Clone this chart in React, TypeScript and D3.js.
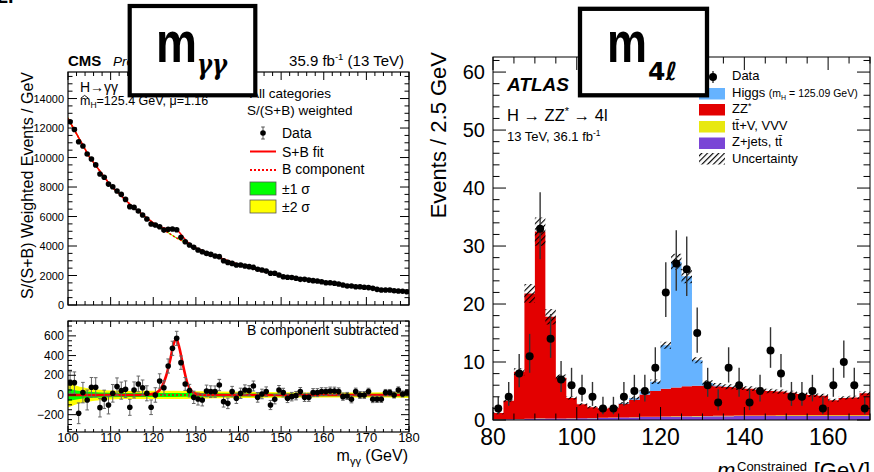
import React from "react";
import * as d3 from "d3";

const FONT = "'Liberation Sans', Arial, Helvetica, sans-serif";

// ---------------- CMS  H -> gamma gamma (1 GeV bins, 100-180 GeV) ----------------
const ggCentres = d3.range(100.5, 180, 1);
const ggWeighted = [
  12430, 11900, 11070, 10780, 10240, 9900, 9500, 8880, 8660, 8200,
  8020, 7730, 7500, 7160, 6670, 6620, 6370, 6100, 5830, 5490,
  5420, 5310, 5080, 5130, 5150, 5100, 4590, 4290, 4070, 3910,
  3730, 3610, 3500, 3430, 3320, 3280, 3000, 2890, 2820, 2710,
  2710, 2640, 2600, 2550, 2420, 2370, 2300, 2150, 2150, 2030,
  1920, 1880, 1860, 1810, 1740, 1740, 1690, 1650, 1630, 1580,
  1510, 1510, 1470, 1420, 1360, 1290, 1290, 1240, 1240, 1200,
  1180, 1130, 1060, 1020, 1020, 1020, 970, 950, 930, 900,
];
const ggResidual = [
  125, 125, -186, 24, -51, 78, 78, -129, -44, -102,
  17, 85, 44, 58, -125, 51, 112, 74, 17, -125,
  0, 142, 74, 294, 474, 575, 328, 112, 44, -24,
  -41, -51, 41, 34, 34, 101, -68, -85, 34, -34,
  17, 51, 44, 91, -24, 10, 34, -102, -44, 51,
  24, -34, -17, -7, 34, -24, -24, 24, 24, 34,
  34, 41, 41, 34, -17, -10, -44, 34, 0, 0,
  34, -44, -44, -44, 24, 24, 0, 51, 10, 24,
];
// background component of the fit
const ggBkgMass = [100, 105, 110, 115, 120, 125, 130, 135, 140, 145, 150, 155, 160, 165, 170, 175, 180];
const ggBkgValue = [12650, 10050, 8100, 6700, 5560, 4620, 3860, 3280, 2740, 2340, 1990, 1740, 1530, 1340, 1170, 1020, 900];
// signal component of the fit
const ggSigMass = [100, 118, 119, 120, 121, 122, 123, 124, 124.8, 125.4, 126, 127, 128, 129, 130, 131, 132, 180];
const ggSigValue = [0, 0, 4, 12, 30, 80, 190, 360, 520, 570, 500, 300, 120, 40, 12, 4, 0, 0];
// +-1 sigma and +-2 sigma bands on the background component
const ggBandMass = [100, 102, 105, 110, 115, 120, 125, 130, 140, 150, 160, 170, 180];
const ggBand1 = [62, 46, 32, 22, 20, 21, 21, 19, 16, 14, 13, 13, 15];
const ggBand2 = [128, 94, 66, 45, 40, 42, 42, 38, 32, 28, 26, 26, 30];

const ggTopTicks = [0, 2000, 4000, 6000, 8000, 10000, 12000, 14000];
const ggBotTicks = [-200, 0, 200, 400, 600];
const ggXTicks = [100, 110, 120, 130, 140, 150, 160, 170, 180];

// ---------------- ATLAS  H -> ZZ* -> 4l (2.5 GeV bins, 80-170 GeV) ----------------
const llEdges = d3.range(80, 170.001, 2.5);
const llZjets = [
  0.10, 0.12, 0.15, 0.20, 0.25, 0.25, 0.25, 0.28, 0.30, 0.32, 0.35, 0.38,
  0.42, 0.45, 0.50, 0.52, 0.55, 0.58, 0.60, 0.62, 0.64, 0.65, 0.66, 0.67,
  0.68, 0.68, 0.69, 0.70, 0.70, 0.70, 0.70, 0.70, 0.70, 0.70, 0.70, 0.70,
];
const llTtv = [
  0.01, 0.01, 0.02, 0.03, 0.04, 0.03, 0.02, 0.02, 0.02, 0.02, 0.03, 0.03,
  0.03, 0.04, 0.04, 0.05, 0.05, 0.06, 0.06, 0.07, 0.07, 0.08, 0.08, 0.09,
  0.09, 0.10, 0.10, 0.10, 0.11, 0.11, 0.12, 0.12, 0.12, 0.13, 0.13, 0.13,
];
const llZZ = [
  1.09, 3.17, 8.13, 21.57, 32.21, 17.52, 7.03, 3.50, 2.38, 1.86, 1.62, 1.69,
  2.35, 3.01, 3.86, 4.43, 4.80, 4.96, 5.14, 5.21, 5.19, 5.07, 4.96, 4.84,
  4.63, 4.42, 4.21, 4.10, 3.89, 3.69, 3.48, 3.38, 2.58, 2.97, 3.07, 3.77,
];
const llHiggs = [
  0, 0, 0, 0, 0, 0, 0, 0, 0, 0, 0, 0,
  0.1, 0.3, 0.5, 1.6, 7.5, 21.7, 19.0, 4.4, 0.5, 0.15, 0.05, 0,
  0, 0, 0, 0, 0, 0, 0, 0, 0, 0, 0, 0,
];
const llData = [
  2, 4, 8, 11, 33, 14, 7, 6, 5, 4, 2, 2,
  4, 5, 5, 9, 22, 27, 26, 15, 6, 3, 9, 6,
  3, 5, 12, 8, 4, 4, 5, 2, 6, 10, 6, 2,
];
const llYTicks = [0, 10, 20, 30, 40, 50, 60];
const llXTicks = [80, 100, 120, 140, 160];

const C_HIGGS = "#66b3ff";
const C_ZZ = "#e30000";
const C_TTV = "#e8e810";
const C_ZJETS = "#7a45d6";

type Lin = d3.ScaleLinear<number, number>;

// inward-pointing ticks on all four sides of a frame
function frameTicks(
  x: Lin, y: Lin,
  xMajor: number, xMinor: number, yMajor: number, yMinor: number,
  xMaj: number, xMin: number, yMaj: number, yMin: number
): string {
  const [xa, xb] = x.domain();
  const [ya, yb] = y.domain();
  const [X0, X1] = x.range();
  const [Yb, Yt] = y.range();
  const isMaj = (v: number, s: number) => Math.abs(v / s - Math.round(v / s)) < 1e-6;
  let d = "";
  for (const v of d3.range(Math.ceil(xa / xMinor) * xMinor, xb + 1e-9, xMinor)) {
    const L = isMaj(v, xMajor) ? xMaj : xMin;
    const p = x(v);
    d += `M${p},${Yb}v${-L}M${p},${Yt}v${L}`;
  }
  for (const v of d3.range(Math.ceil(ya / yMinor) * yMinor, yb + 1e-9, yMinor)) {
    const L = isMaj(v, yMajor) ? yMaj : yMin;
    const p = y(v);
    d += `M${X0},${p}h${L}M${X1},${p}h${-L}`;
  }
  return d;
}

function CmsPanel() {
  const gx = d3.scaleLinear().domain([100, 180]).range([68, 409]);
  const gyTop = d3.scaleLinear().domain([0, 15800]).range([305, 72]);
  const gyBot = d3.scaleLinear().domain([-376, 751]).range([432, 321]);

  const bkgAt = d3.scaleLinear().domain(ggBkgMass).range(ggBkgValue).clamp(true);
  const sigAt = d3.scaleLinear().domain(ggSigMass).range(ggSigValue).clamp(true);
  const band1At = d3.scaleLinear().domain(ggBandMass).range(ggBand1).clamp(true);
  const band2At = d3.scaleLinear().domain(ggBandMass).range(ggBand2).clamp(true);
  const fine = d3.range(100, 180.0001, 0.25);

  const lineXY = d3.line<[number, number]>().curve(d3.curveMonotoneX);
  const sbTop = lineXY(fine.map((m) => [gx(m), gyTop(bkgAt(m) + sigAt(m))]));
  const bTop = lineXY(fine.map((m) => [gx(m), gyTop(bkgAt(m))]));

  const bandTop = (w: (m: number) => number) =>
    d3.area<number>()
      .x((m) => gx(m))
      .y0((m) => gyTop(bkgAt(m) - w(m)))
      .y1((m) => gyTop(bkgAt(m) + w(m)))
      .curve(d3.curveMonotoneX)(fine);
  const bandBot = (vals: number[]) =>
    d3.area<number>()
      .x((m) => gx(m))
      .y0((_, i) => gyBot(-vals[i]))
      .y1((_, i) => gyBot(vals[i]))
      .curve(d3.curveMonotoneX)(ggBandMass);

  const sigBot = lineXY(ggSigMass.map((m, i) => [gx(m), gyBot(ggSigValue[i])]));
  const zeroLine = lineXY([[gx(100), gyBot(0)], [gx(180), gyBot(0)]]);

  const topTicks = frameTicks(gx, gyTop, 10, 2, 2000, 500, 8, 4, 9, 4.5);
  const botTicks = frameTicks(gx, gyBot, 10, 2, 200, 50, 6, 3, 8, 4);

  return (
    <g>
      <defs>
        <clipPath id="ggTopClip"><rect x={68} y={72} width={341} height={233} /></clipPath>
        <clipPath id="ggBotClip"><rect x={68} y={321} width={341} height={111} /></clipPath>
      </defs>

      {/* upper pad */}
      <g clipPath="url(#ggTopClip)">
        <path d={bandTop(band2At) ?? ""} fill="#ffff00" />
        <path d={bandTop(band1At) ?? ""} fill="#00ff00" />
        <path d={bTop ?? ""} fill="none" stroke="#ff0000" strokeWidth={1.5} strokeDasharray="2,2" />
        <path d={sbTop ?? ""} fill="none" stroke="#ff0000" strokeWidth={1.5} />
        {ggCentres.map((m, i) => {
          const e = Math.sqrt(ggWeighted[i]);
          return (
            <g key={i}>
              <line x1={gx(m)} x2={gx(m)} y1={gyTop(ggWeighted[i] - e)} y2={gyTop(ggWeighted[i] + e)} stroke="#555" strokeWidth={1} />
              <circle cx={gx(m)} cy={gyTop(ggWeighted[i])} r={2.8} fill="#000" />
            </g>
          );
        })}
      </g>
      <rect x={68} y={72} width={341} height={233} fill="none" stroke="#000" strokeWidth={1.2} />
      <path d={topTicks} stroke="#000" strokeWidth={1} fill="none" />
      {ggTopTicks.map((v) => (
        <text key={v} x={64} y={gyTop(v) + 4} fontSize={11} textAnchor="end">{v}</text>
      ))}

      {/* lower pad */}
      <g clipPath="url(#ggBotClip)">
        <path d={bandBot(ggBand2) ?? ""} fill="#ffff00" />
        <path d={bandBot(ggBand1) ?? ""} fill="#00ff00" />
        <path d={zeroLine ?? ""} fill="none" stroke="#ff0000" strokeWidth={1.5} strokeDasharray="2,2" />
        <path d={sigBot ?? ""} fill="none" stroke="#ff0000" strokeWidth={2.6} />
        {ggCentres.map((m, i) => {
          const e = Math.sqrt(ggWeighted[i]);
          const px = gx(m);
          const lo = gyBot(ggResidual[i] - e);
          const hi = gyBot(ggResidual[i] + e);
          return (
            <g key={i}>
              <path d={`M${px},${lo}V${hi}M${px - 1.8},${lo}h3.6M${px - 1.8},${hi}h3.6`} stroke="#666" strokeWidth={1} fill="none" />
              <circle cx={px} cy={gyBot(ggResidual[i])} r={2.8} fill="#000" />
            </g>
          );
        })}
      </g>
      <rect x={68} y={321} width={341} height={111} fill="none" stroke="#000" strokeWidth={1.2} />
      <path d={botTicks} stroke="#000" strokeWidth={1} fill="none" />
      {ggBotTicks.map((v) => (
        <text key={v} x={64} y={gyBot(v) + 4} fontSize={12} textAnchor="end">{v < 0 ? `\u2212${-v}` : v}</text>
      ))}
      {ggXTicks.map((v) => (
        <text key={v} x={gx(v)} y={442} fontSize={13} textAnchor="middle">{v}</text>
      ))}
      <text x={247} y={335} fontSize={14}>B component subtracted</text>

      {/* axis titles */}
      <text transform="translate(33,72) rotate(-90)" fontSize={16} textAnchor="end">S/(S+B) Weighted Events / GeV</text>
      <text x={408} y={461} fontSize={16} textAnchor="end">
        m<tspan fontSize={11} dy={4}>γγ</tspan><tspan dy={-4}> (GeV)</tspan>
      </text>

      {/* header */}
      <text x={68} y={66} fontSize={15} fontWeight="bold">CMS</text>
      <text x={113} y={66} fontSize={13.5} fontStyle="italic">Preliminary</text>
      <text x={404} y={66} fontSize={15} textAnchor="end">
        35.9 fb<tspan fontSize={9.5} dy={-6}>-1</tspan><tspan dy={6}> (13 TeV)</tspan>
      </text>

      {/* annotations */}
      <text x={80} y={92} fontSize={14}>H→γγ</text>
      <path d="M80.8,98.2L84.6,95.4L88.4,98.2" fill="none" stroke="#000" strokeWidth={0.9} />
      <text x={80} y={105} fontSize={12.5}>
        m<tspan fontSize={8.5} dy={3}>H</tspan><tspan dy={-3}>=125.4 GeV, μ=1.16</tspan>
      </text>

      {/* legend */}
      <text x={250} y={98} fontSize={13.5}>All categories</text>
      <text x={247} y={115} fontSize={13.5}>S/(S+B) weighted</text>
      <path d="M263,127V139M261.2,127h3.6M261.2,139h3.6" stroke="#555" strokeWidth={1} fill="none" />
      <circle cx={263} cy={133} r={2.8} fill="#000" />
      <text x={282} y={138} fontSize={14}>Data</text>
      <line x1={250} x2={276} y1={151.5} y2={151.5} stroke="#ff0000" strokeWidth={2} />
      <text x={282} y={157} fontSize={14}>S+B fit</text>
      <line x1={250} x2={276} y1={170} y2={170} stroke="#ff0000" strokeWidth={2} strokeDasharray="2,2" />
      <text x={282} y={174} fontSize={14}>B component</text>
      <rect x={250} y={182} width={26} height={13} fill="#00ff00" stroke="#555" strokeWidth={0.8} />
      <text x={282} y={194} fontSize={14}>±1 σ</text>
      <rect x={250} y={200} width={26} height={13} fill="#ffff00" stroke="#555" strokeWidth={0.8} />
      <text x={282} y={212} fontSize={14}>±2 σ</text>
    </g>
  );
}

function AtlasPanel() {
  const xR = d3.scaleLinear().domain([80, 170]).range([493, 870]);
  const yR = d3.scaleLinear().domain([0, 62.6]).range([420, 57]);

  const rows = llZZ.map((_, i) => ({ zjets: llZjets[i], ttv: llTtv[i], zz: llZZ[i], higgs: llHiggs[i] }));
  const keys = ["zjets", "ttv", "zz", "higgs"];
  const stack = d3.stack<any>().keys(keys)(rows);
  const colours: Record<string, string> = { zjets: C_ZJETS, ttv: C_TTV, zz: C_ZZ, higgs: C_HIGGS };

  type Pt = { m: number; lo: number; hi: number };
  const step = (vals: { lo: number; hi: number }[]): Pt[] =>
    vals.flatMap((v, i) => [
      { m: llEdges[i], lo: v.lo, hi: v.hi },
      { m: llEdges[i + 1], lo: v.lo, hi: v.hi },
    ]);
  const area = d3.area<Pt>().x((d) => xR(d.m)).y0((d) => yR(d.lo)).y1((d) => yR(d.hi));

  // systematic band on the total expectation
  const unc = rows.map((r) => {
    const tot = r.zjets + r.ttv + r.zz + r.higgs;
    const u = Math.max(0.2, Math.hypot(0.075 * (r.zjets + r.ttv + r.zz), 0.06 * r.higgs));
    return { lo: tot - u, hi: tot + u };
  });

  const ticks = frameTicks(xR, yR, 20, 5, 10, 2, 13, 6.5, 13, 6.5);
  const centres = llData.map((_, i) => (llEdges[i] + llEdges[i + 1]) / 2);

  return (
    <g>
      <defs>
        <pattern id="hatch" width={4} height={4} patternUnits="userSpaceOnUse" patternTransform="rotate(45)">
          <line x1={0.5} y1={0} x2={0.5} y2={4} stroke="#000" strokeWidth={1.3} />
        </pattern>
        <clipPath id="llClip"><rect x={493} y={57} width={377} height={363} /></clipPath>
      </defs>
      <g clipPath="url(#llClip)">
        {stack.map((layer) => (
          <path
            key={layer.key}
            d={area(step(layer.map((s) => ({ lo: s[0], hi: s[1] })))) ?? ""}
            fill={colours[layer.key]}
          />
        ))}
        <path d={area(step(unc)) ?? ""} fill="url(#hatch)" />
        {llData.map((n, i) => {
          const up = 0.5 + Math.sqrt(n + 0.25);
          const dn = -0.5 + Math.sqrt(n + 0.25);
          const px = xR(centres[i]);
          return (
            <g key={i}>
              <line x1={px} x2={px} y1={yR(n - dn)} y2={yR(n + up)} stroke="#333" strokeWidth={1.4} />
              <circle cx={px} cy={yR(n)} r={4} fill="#000" />
            </g>
          );
        })}
      </g>
      <rect x={493} y={57} width={377} height={363} fill="none" stroke="#000" strokeWidth={1} />
      <path d={ticks} stroke="#000" strokeWidth={1} fill="none" />
      {llYTicks.map((v) => (
        <text key={v} x={485} y={yR(v) + 7} fontSize={20} textAnchor="end">{v}</text>
      ))}
      {llXTicks.map((v) => (
        <text key={v} x={xR(v)} y={445} fontSize={23} textAnchor="middle">{v}</text>
      ))}

      {/* axis titles */}
      <text transform="translate(446,52) rotate(-90)" fontSize={22} textAnchor="end">Events / 2.5 GeV</text>
      <text x={717} y={478} fontSize={22} fontStyle="italic">m</text>
      <text x={737} y={471} fontSize={13}>Constrained</text>
      <text x={870} y={478} fontSize={22} textAnchor="end">[GeV]</text>

      {/* labels */}
      <text x={507} y={91} fontSize={19} fontWeight="bold" fontStyle="italic">ATLAS</text>
      <text x={507} y={121} fontSize={16.5}>
        H → ZZ<tspan fontSize={11} dy={-6}>*</tspan><tspan dy={6}> → 4l</tspan>
      </text>
      <text x={507} y={141} fontSize={13}>
        13 TeV, 36.1 fb<tspan fontSize={8.5} dy={-5}>-1</tspan>
      </text>

      {/* legend */}
      <line x1={713} x2={713} y1={71} y2={83} stroke="#333" strokeWidth={1.4} />
      <circle cx={713} cy={77} r={4} fill="#000" />
      <text x={732} y={80} fontSize={13}>Data</text>
      <rect x={699} y={88} width={26} height={11.5} fill={C_HIGGS} />
      <text x={732} y={96.5} fontSize={13}>
        Higgs <tspan fontSize={10.5}>(m</tspan><tspan fontSize={7} dy={3}>H</tspan><tspan fontSize={10.5} dy={-3}> = 125.09 GeV)</tspan>
      </text>
      <rect x={699} y={104} width={26} height={11.5} fill={C_ZZ} />
      <text x={732} y={113} fontSize={13}>ZZ<tspan fontSize={9} dy={-4}>*</tspan></text>
      <rect x={699} y={121} width={26} height={11.5} fill={C_TTV} />
      <text x={732} y={129.5} fontSize={13}>tt̄+V, VVV</text>
      <rect x={699} y={137.5} width={26} height={11.5} fill={C_ZJETS} />
      <text x={732} y={146} fontSize={13}>Z+jets, tt̄</text>
      <rect x={699} y={153} width={26} height={11.5} fill="url(#hatch)" />
      <text x={732} y={162.5} fontSize={13}>Uncertainty</text>
    </g>
  );
}

export default function App() {
  return (
    <svg
      width={874}
      height={472}
      viewBox="0 0 874 472"
      style={{ position: "absolute", left: 0, top: 0, display: "block", background: "#fff" }}
      fontFamily={FONT}
    >
      <rect x={0} y={0} width={874} height={472} fill="#fff" />
      <text x={-3} y={3} fontSize={20} fontWeight="bold">2.</text>
      <CmsPanel />
      <AtlasPanel />

      {/* observable labels */}
      <rect x={129.7} y={6} width={125.6} height={89.3} fill="#fff" stroke="#000" strokeWidth={4.2} />
      <text x={156} y={62} fontSize={58} fontWeight="bold" textLength={41} lengthAdjust="spacingAndGlyphs">m</text>
      <text x={197} y={74} fontSize={28} fontWeight="bold" fontStyle="italic" fontFamily="'DejaVu Serif', serif" textLength={30} lengthAdjust="spacingAndGlyphs">γγ</text>

      <rect x={580} y={8.8} width={127} height={86.5} fill="#fff" stroke="#000" strokeWidth={4.3} />
      <text x={607} y={62} fontSize={58} fontWeight="bold" textLength={40} lengthAdjust="spacingAndGlyphs">m</text>
      <text x={648} y={80} fontSize={25} fontWeight="bold" fontFamily="'DejaVu Sans', sans-serif">
        4<tspan fontStyle="italic">ℓ</tspan>
      </text>
    </svg>
  );
}
